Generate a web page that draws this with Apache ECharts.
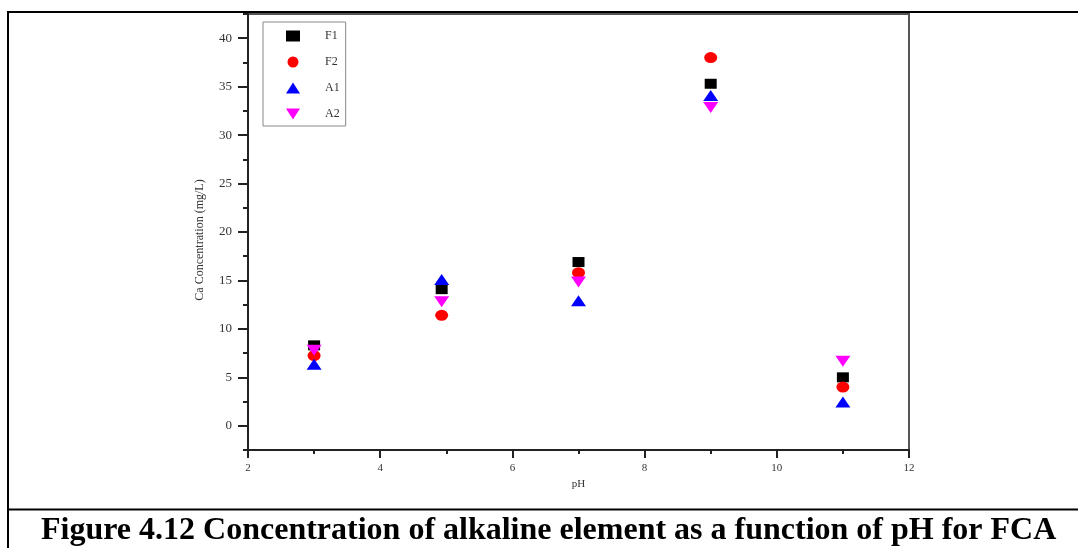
<!DOCTYPE html>
<html>
<head>
<meta charset="utf-8">
<script src="https://cdn.jsdelivr.net/npm/echarts@6/dist/echarts.min.js"></script>
<style>
  html, body { margin: 0; padding: 0; background: #fff; }
  #chart { width: 1078px; height: 548px; }
</style>
</head>
<body>
<div id="chart"></div>
<script>
// ---- data ----
const phValues = [3, 4.93, 7, 9, 11];
const seriesNames = ['F1', 'F2', 'A1', 'A2'];
const F1 = [8.3, 14.1, 16.9, 35.3, 5.0];
const F2 = [7.25, 11.4, 15.8, 38.0, 4.0];
const A1 = [6.35, 15.1, 12.9, 34.1, 2.45];
const A2 = [7.8, 12.8, 14.85, 32.85, 6.65];
const yMajorTicks = [0, 5, 10, 15, 20, 25, 30, 35, 40];
const xTickLabels = [2, 4, 6, 8, 10, 12];
const captionText = 'Figure 4.12 Concentration of alkaline element as a function of pH for FCA';
const xAxisName = 'pH';
const yAxisName = 'Ca Concentration (mg/L)';

const seriesValues = [F1, F2, A1, A2];
const seriesColors = ['#000000', '#ff0000', '#0000ff', '#ff00ff'];
const downTriangle = 'path://M0,0 L2,0 L1,1.5 Z';
const seriesSymbols = ['rect', 'circle', 'triangle', downTriangle];
const seriesSymbolSizes = [[12, 10], [13, 11], [15, 11], [15, 11]];

const serif = '"Liberation Serif", "Times New Roman", serif';
const axisColor = '#222';
const labelColor = '#333';

const chart = echarts.init(document.getElementById('chart'), null, { renderer: 'canvas' });

const series = seriesNames.map((name, i) => ({
  name: name,
  type: 'scatter',
  xAxisIndex: 0,
  yAxisIndex: 0,
  symbol: seriesSymbols[i],
  symbolSize: seriesSymbolSizes[i],
  symbolKeepAspect: false,
  itemStyle: { color: seriesColors[i], opacity: 1 },
  emphasis: { disabled: true },
  data: phValues.map((x, j) => [x, seriesValues[i][j]])
}));

const option = {
  animation: false,
  backgroundColor: '#ffffff',
  title: {
    text: captionText,
    left: 41,
    top: 515,
    padding: 0,
    textStyle: {
      fontFamily: serif,
      fontWeight: 'bold',
      fontSize: 32,
      color: '#000'
    }
  },
  grid: {
    left: 248,
    right: 169,
    top: 14,
    bottom: 98,
    show: true,
    borderColor: '#555',
    borderWidth: 2,
    backgroundColor: 'transparent'
  },
  legend: {
    orient: 'vertical',
    left: 263,
    top: 22,
    padding: [7, 6, 5, 23],
    itemGap: 12,
    itemWidth: 14,
    itemHeight: 11,
    borderColor: '#888',
    borderWidth: 1,
    backgroundColor: '#fff',
    selectedMode: false,
    symbolKeepAspect: false,
    data: seriesNames,
    textStyle: {
      fontFamily: serif,
      fontSize: 12,
      lineHeight: 14,
      color: labelColor,
      padding: [0, 0, 0, 20]
    }
  },
  xAxis: [{
    type: 'value',
    min: 2,
    max: 12,
    interval: 2,
    name: xAxisName,
    nameLocation: 'middle',
    nameGap: 26,
    nameTextStyle: { fontFamily: serif, fontSize: 11, color: labelColor },
    axisLine: { show: true, onZero: false, lineStyle: { color: axisColor, width: 2 } },
    axisTick: { show: true, inside: false, length: 8, lineStyle: { color: axisColor, width: 2 } },
    minorTick: { show: true, splitNumber: 2, length: 4, lineStyle: { color: axisColor, width: 2 } },
    axisLabel: {
      margin: 13,
      fontFamily: serif,
      fontSize: 11,
      color: labelColor,
      customValues: xTickLabels
    },
    splitLine: { show: false }
  }],
  yAxis: [{
    type: 'value',
    min: -2.5,
    max: 42.5,
    name: yAxisName,
    nameLocation: 'middle',
    nameGap: 42,
    nameTextStyle: { fontFamily: serif, fontSize: 12, color: labelColor, padding: [0, 16, 0, 0] },
    axisLine: { show: true, onZero: false, lineStyle: { color: axisColor, width: 2 } },
    axisTick: { show: true, inside: false, length: 10, customValues: yMajorTicks, lineStyle: { color: axisColor, width: 2 } },
    axisLabel: {
      margin: 16,
      fontFamily: serif,
      fontSize: 13,
      color: labelColor,
      customValues: yMajorTicks
    },
    splitLine: { show: false }
  }, {
    type: 'value',
    position: 'left',
    min: -2.5,
    max: 42.5,
    interval: 2.5,
    axisLine: { show: false, onZero: false },
    axisTick: { show: true, inside: false, length: 5, lineStyle: { color: axisColor, width: 2 } },
    axisLabel: { show: false },
    splitLine: { show: false }
  }],
  graphic: [
    { type: 'line', silent: true, z: 100, shape: { x1: 7, y1: 12, x2: 1078, y2: 12 }, style: { stroke: '#000', lineWidth: 2 } },
    { type: 'line', silent: true, z: 100, shape: { x1: 8, y1: 11, x2: 8, y2: 548 }, style: { stroke: '#000', lineWidth: 2 } },
    { type: 'line', silent: true, z: 100, shape: { x1: 7, y1: 509.5, x2: 1078, y2: 509.5 }, style: { stroke: '#000', lineWidth: 2 } }
  ],
  series: series
};

chart.setOption(option);
</script>
</body>
</html>
